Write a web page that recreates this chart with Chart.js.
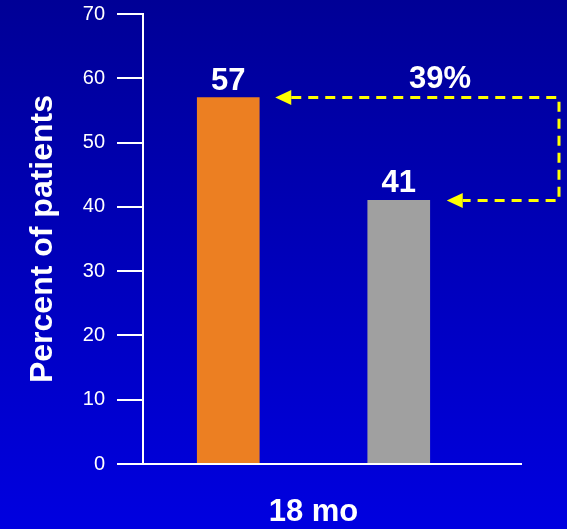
<!DOCTYPE html>
<html>
<head>
<meta charset="utf-8">
<script src="https://cdn.jsdelivr.net/npm/chart.js@4"></script>
<style>
  html, body { margin: 0; padding: 0; background: #0000b0; }
  #wrap { width: 567px; height: 529px; position: relative; }
</style>
</head>
<body>
<div id="wrap"><canvas id="c"></canvas></div>
<script>
// ---- data ----
const categories = ['Group 1', 'Group 2'];
const values = [57, 41];
const barColors = ['#EC7F22', '#A0A0A0'];
const yMin = 0, yMax = 70, yStep = 10;
const xTitle = '18 mo';
const yTitle = 'Percent of patients';
const changeLabel = '39%';

const FONT = "'Liberation Sans', Arial, sans-serif";

const bgPlugin = {
  id: 'bg',
  beforeDraw(chart) {
    const { ctx, width, height } = chart;
    const g = ctx.createLinearGradient(0, 0, 0, height);
    g.addColorStop(0, '#000096');
    g.addColorStop(1, '#0000E0');
    ctx.save();
    ctx.fillStyle = g;
    ctx.fillRect(0, 0, width, height);
    ctx.restore();
  }
};

const annoPlugin = {
  id: 'anno',
  afterDatasetsDraw(chart) {
    const { ctx, chartArea } = chart;
    const meta = chart.getDatasetMeta(0);
    const bars = meta.data;
    ctx.save();
    // extended x axis line
    ctx.strokeStyle = '#FFFFFF';
    ctx.lineWidth = 2;
    ctx.beginPath();
    ctx.moveTo(chartArea.left, chartArea.bottom);
    ctx.lineTo(chartArea.right + 38, chartArea.bottom);
    ctx.stroke();

    // value labels
    ctx.fillStyle = '#FFFFFF';
    ctx.font = 'bold 31px ' + FONT;
    ctx.textAlign = 'center';
    ctx.textBaseline = 'alphabetic';
    bars.forEach((b, i) => {
      ctx.fillText(String(values[i]), b.x, b.y - 8);
    });

    // dashed arrows
    const b0 = bars[0], b1 = bars[1];
    const y0 = b0.y, y1 = b1.y;
    const xr = chartArea.right + 75;
    const tip0 = b0.x + b0.width / 2 + 16;
    const tip1 = b1.x + b1.width / 2 + 17;
    const hl = 16, hw = 7.5;
    ctx.strokeStyle = '#FFFF00';
    ctx.lineWidth = 3;
    ctx.setLineDash([10, 7]);
    ctx.beginPath();
    ctx.moveTo(tip0 + hl, y0);
    ctx.lineTo(xr, y0);
    ctx.lineTo(xr, y1);
    ctx.lineTo(tip1 + hl, y1);
    ctx.stroke();
    ctx.setLineDash([]);
    ctx.fillStyle = '#FFFF00';
    [[tip0, y0], [tip1, y1]].forEach(([tx, ty]) => {
      ctx.beginPath();
      ctx.moveTo(tx, ty);
      ctx.lineTo(tx + hl, ty - hw);
      ctx.lineTo(tx + hl, ty + hw);
      ctx.closePath();
      ctx.fill();
    });

    // change label
    ctx.fillStyle = '#FFFFFF';
    ctx.font = 'bold 31px ' + FONT;
    ctx.textAlign = 'center';
    ctx.fillText(changeLabel, xr - 119, y0 - 10);
    ctx.restore();
  }
};

new Chart(document.getElementById('c'), {
  type: 'bar',
  data: {
    labels: categories,
    datasets: [{
      data: values,
      backgroundColor: barColors,
      borderWidth: 0,
      barThickness: 62
    }]
  },
  options: {
    responsive: true,
    maintainAspectRatio: false,
    animation: false,
    layout: { padding: { top: 14, right: 83, left: 0, bottom: 0 } },
    plugins: { legend: { display: false }, tooltip: { enabled: false } },
    scales: {
      x: {
        grid: { display: false },
        border: { display: false },
        ticks: { display: false },
        title: {
          display: true,
          text: xTitle,
          color: '#FFFFFF',
          font: { family: FONT, size: 31, weight: 'bold', lineHeight: 1 },
          padding: { top: 0, bottom: 1 }
        },
        afterFit(scale) { scale.height = 65; scale.paddingLeft = 0; scale.paddingRight = 0; }
      },
      y: {
        min: yMin,
        max: yMax,
        ticks: {
          stepSize: yStep,
          color: '#FFFFFF',
          padding: 12,
          font: { family: FONT, size: 20 }
        },
        grid: {
          drawOnChartArea: false,
          drawTicks: true,
          tickLength: 26,
          color: '#FFFFFF',
          lineWidth: 2
        },
        border: { display: true, color: '#FFFFFF', width: 2 },
        title: {
          display: true,
          text: yTitle,
          color: '#FFFFFF',
          font: { family: FONT, size: 32, weight: 'bold', lineHeight: 1 },
          padding: { top: 27, bottom: 0 }
        },
        afterFit(scale) { scale.width = 143; scale.paddingTop = 0; scale.paddingBottom = 0; }
      }
    }
  },
  plugins: [bgPlugin, annoPlugin]
});
</script>
</body>
</html>
